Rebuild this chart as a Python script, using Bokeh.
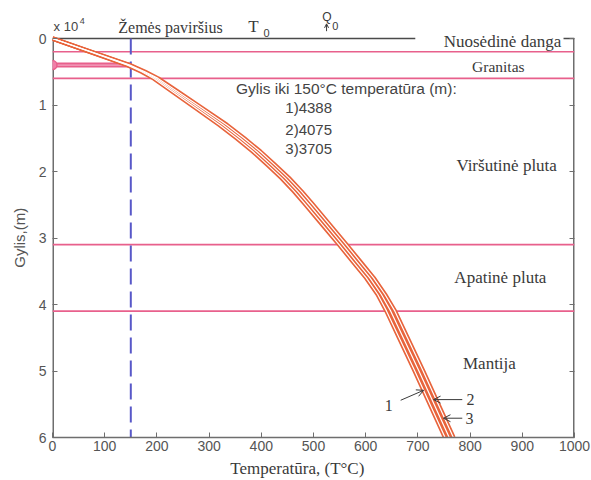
from bokeh.plotting import figure
from bokeh.models import (Range1d, LinearAxis, Label, Arrow, OpenHead, FixedTicker)
from bokeh.layouts import column
from bokeh.embed import file_html
from bokeh.resources import INLINE

# ---- data (depth in 10^4 m, temperature in degC) ----
depth = [0, 0.2, 0.4, 0.5, 0.6, 0.8, 1.0, 1.3, 1.5, 1.7, 1.9, 2.1, 2.3, 2.5, 2.8, 3.1,
         3.35, 3.6, 3.85, 4.1, 4.5, 5.0, 5.5, 6.0]
temp_1 = [0, 72, 144, 171, 194, 230, 266, 320, 353, 384, 412, 439, 463, 485, 517, 549,
          575, 601, 623, 640, 664, 694, 723, 752]
temp_2 = [0, 73, 146, 174, 198, 235, 272, 327, 360, 391, 419, 446, 470, 492, 524, 556,
          582, 608, 630, 648, 672, 702, 731, 760]
temp_3 = [0, 74, 148, 177, 202, 240, 278, 334, 367, 398, 426, 453, 477, 499, 531, 563,
          589, 615, 637, 656, 680, 710, 739, 768]

layer_bounds = [0.2, 0.6, 3.1, 4.1]
surface_temp = 150
marker_depth = 0.4
x_ticks = [0, 100, 200, 300, 400, 500, 600, 700, 800, 900, 1000]
y_ticks = [0, 1, 2, 3, 4, 5, 6]
depth_list = ["1)4388", "2)4075", "3)3705"]
depth_list_y = [1.04, 1.37, 1.66]

TXT = "#3a3a3a"
AX = "#6e6e6e"
ORANGE = "#e8643c"
PINK = "#e8608c"
SERIF = "Liberation Serif"
SANS = "Liberation Sans"

PX_PER_D = 66.5          # vertical pixels per depth unit
TOP_D = -38 / PX_PER_D   # depth value at the very top of the picture

p = figure(width=591, height=457, output_backend="svg", toolbar_location=None,
           x_range=Range1d(0, 1000), y_range=Range1d(6, TOP_D),
           min_border_left=52, min_border_right=17, min_border_top=0,
           min_border_bottom=20)
p.outline_line_color = None
p.grid.visible = False

for ax in (p.xaxis[0], p.yaxis[0]):
    ax.axis_line_color = AX
    ax.axis_line_width = 1.5
    ax.major_tick_line_color = AX
    ax.major_tick_in = 5
    ax.major_tick_out = 0
    ax.minor_tick_line_color = None
    ax.major_label_text_color = "#555555"
    ax.major_label_text_font = SANS
    ax.major_label_text_font_size = "14px"
p.xaxis[0].ticker = FixedTicker(ticks=x_ticks)
p.yaxis[0].ticker = FixedTicker(ticks=y_ticks)
p.yaxis[0].axis_line_color = None
p.xaxis[0].major_label_standoff = 3
p.yaxis[0].major_label_standoff = 6
p.yaxis[0].axis_label = "Gylis,(m)" + "\u00a0" * 9
p.yaxis[0].axis_label_text_font = SANS
p.yaxis[0].axis_label_text_font_style = "normal"
p.yaxis[0].axis_label_text_font_size = "15px"
p.yaxis[0].axis_label_text_color = "#555555"
p.yaxis[0].axis_label_standoff = 8

rax = LinearAxis(ticker=FixedTicker(ticks=y_ticks), axis_line_color=None,
                 major_tick_line_color=AX, major_tick_in=5, major_tick_out=0,
                 minor_tick_line_color=None, major_label_text_color=None,
                 major_label_text_font_size="1px")
p.add_layout(rax, "right")

# left / right frame lines (only over the depth range)
p.line([0, 0], [0, 6], line_color=AX, line_width=3)
p.line([1000, 1000], [0, 6], line_color=AX, line_width=3)

# layer boundaries
for b in layer_bounds:
    p.line([0, 1000], [b, b], line_color=PINK, line_width=1.6)

# surface line (top)
p.line([0, 695], [0, 0], line_color="#4a4a4a", line_width=1.5)
p.line([979, 1000], [0, 0], line_color="#4a4a4a", line_width=1.5)

# marker band
p.line([0, surface_temp], [marker_depth, marker_depth], line_color=PINK, line_width=5)
p.line([0, surface_temp], [marker_depth, marker_depth], line_color="#f3a6c2", line_width=1.2)
p.scatter([0], [marker_depth], marker="circle", size=9, fill_color="#f080a8",
          line_color=PINK, line_width=1.5)

# dashed vertical line
p.line([surface_temp, surface_temp], [0, 6], line_color="#5858c8", line_width=2,
       line_dash="16 7")

# curves
for t in (temp_1, temp_2, temp_3):
    p.line(t, depth, line_color=ORANGE, line_width=4.5, line_join="round")
for t in (temp_1, temp_2, temp_3):
    p.line(t, depth, line_color="white", line_width=1.2, line_join="round")


def lab(fig, x, y, text, font=SERIF, size="17px", color=TXT, align="center",
        baseline="middle", angle=0.0):
    fig.add_layout(Label(x=x, y=y, text=text, text_font=font, text_font_size=size,
                         text_color=color, text_align=align, text_baseline=baseline,
                         angle=angle))


# top annotations
lab(p, 2, -0.18, "x 10", font=SANS, size="13px", color="#444444", align="left")
lab(p, 52, -0.27, "4", font=SANS, size="9px", color="#444444", align="left")
lab(p, 126, -0.16, "Žemės paviršius", size="16px", align="left")
lab(p, 375, -0.18, "T", size="17px", align="left")
lab(p, 404, -0.085, "0", font=SANS, size="11px", align="left")
lab(p, 517, -0.33, "Q", font=SANS, size="12px", align="left")
lab(p, 536, -0.19, "0", font=SANS, size="11px", align="left")
p.add_layout(Arrow(end=OpenHead(size=4, line_width=1, line_color=TXT),
                   x_start=525, y_start=-0.11, x_end=525, y_end=-0.22,
                   line_color=TXT, line_width=1))

# layer names
lab(p, 862, 0.05, "Nuosėdinė danga")
lab(p, 854, 0.42, "Granitas", size="15.5px")
lab(p, 870, 1.91, "Viršutinė pluta")
lab(p, 858, 3.59, "Apatinė pluta")
lab(p, 837, 4.89, "Mantija")

# info text
lab(p, 563, 0.75, "Gylis iki 150°C temperatūra (m):", font=SANS, size="15.5px",
    color="#444444")
for s, yv in zip(depth_list, depth_list_y):
    lab(p, 446, yv, s, font=SANS, size="15px", color="#444444", align="left")

# curve pointers
lab(p, 644, 5.52, "1", size="16px")
lab(p, 801, 5.43, "2", size="16px")
lab(p, 799, 5.71, "3", size="16px")
for xs, ys, xe, ye in [(667, 5.44, 711, 5.29), (785, 5.43, 730, 5.43), (785, 5.71, 749, 5.71)]:
    p.add_layout(Arrow(end=OpenHead(size=7, line_width=1, line_color=TXT),
                       x_start=xs, y_start=ys, x_end=xe, y_end=ye,
                       line_color=TXT, line_width=1))

# x axis title (strip below the main figure)
footer = figure(width=591, height=23, output_backend="svg", toolbar_location=None,
                x_range=Range1d(0, 1000),
                y_range=Range1d((480 - 38) / PX_PER_D, (457 - 38) / PX_PER_D),
                x_axis_type=None, y_axis_type=None, min_border=0)
footer.outline_line_color = None
footer.grid.visible = False
lab(footer, 469, 6.47, "Temperatūra, (T°C)", size="17px")

layout = column(p, footer, spacing=0)
open("out.html", "w").write(file_html(layout, INLINE))
